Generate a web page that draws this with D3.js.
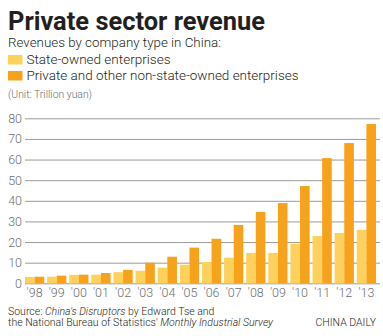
<!DOCTYPE html>
<html>
<head>
<meta charset="utf-8">
<script src="https://cdn.jsdelivr.net/npm/d3@7"></script>
<style>
  body { margin: 0; background: #fff; }
  svg { display: block; }
</style>
</head>
<body>
<div id="chart"></div>
<script>
// data (trillion yuan)
const years = ["'98", "'99", "'00", "'01", "'02", "'03", "'04", "'05", "'06", "'07", "'08", "'09", "'10", "'11", "'12", "'13"];
const stateOwned = [3.1, 3.2, 4.1, 4.2, 5.4, 6.1, 7.6, 9.0, 10.3, 12.4, 14.7, 14.7, 19.2, 22.9, 24.4, 25.9];
const privateOwned = [3.2, 3.7, 4.2, 5.0, 6.5, 10.0, 12.9, 17.3, 21.6, 28.3, 34.6, 38.9, 47.2, 60.7, 68.0, 77.2];
const yTicks = [0, 10, 20, 30, 40, 50, 60, 70, 80];
const series = ["State-owned enterprises", "Private and other non-state-owned enterprises"];

const colors = ["#FDD15C", "#F6A31B"];
const width = 383, height = 336;
const textColor = "#231F20";
const grayText = "#6D6E71";

const svg = d3.select("#chart").append("svg")
    .attr("width", width)
    .attr("height", height);

// title block
svg.append("text")
    .attr("x", 8).attr("y", 29.5)
    .attr("font-family", "Roboto, sans-serif")
    .attr("font-weight", "bold")
    .attr("font-size", 25)
    .attr("textLength", 257)
    .attr("lengthAdjust", "spacingAndGlyphs")
    .attr("fill", textColor)
    .text("Private sector revenue");

svg.append("text")
    .attr("x", 8).attr("y", 46.5)
    .attr("font-family", "Roboto, sans-serif")
    .attr("font-weight", 300)
    .attr("font-size", 13.5)
    .attr("textLength", 213)
    .attr("lengthAdjust", "spacingAndGlyphs")
    .attr("fill", textColor)
    .text("Revenues by company type in China:");

// legend
const legend = svg.selectAll("g.legend")
    .data(series)
    .join("g")
    .attr("class", "legend")
    .attr("transform", (d, i) => `translate(8, ${55 + i * 16})`);

legend.append("rect")
    .attr("width", 14.5).attr("height", 9.5)
    .attr("fill", (d, i) => colors[i]);

legend.append("text")
    .attr("x", 18.5).attr("y", 9.3)
    .attr("font-family", "Roboto, sans-serif")
    .attr("font-weight", 300)
    .attr("font-size", 13.5)
    .attr("textLength", (d, i) => i === 0 ? 144 : 272)
    .attr("lengthAdjust", "spacingAndGlyphs")
    .attr("fill", textColor)
    .text(d => d);

svg.append("text")
    .attr("x", 8).attr("y", 98)
    .attr("font-family", "Roboto, sans-serif")
    .attr("font-weight", 300)
    .attr("font-size", 10)
    .attr("textLength", 84)
    .attr("lengthAdjust", "spacingAndGlyphs")
    .attr("fill", grayText)
    .text("(Unit: Trillion yuan)");

// scales
const x0 = d3.scaleBand()
    .domain(years)
    .range([25, 376])
    .paddingInner(0.13)
    .paddingOuter(0);

const x1 = d3.scaleBand()
    .domain([0, 1])
    .range([0, x0.bandwidth()]);

const y = d3.scaleLinear()
    .domain([0, 80])
    .range([283.3, 118.3]);

// grid + y labels
const yAxis = svg.append("g")
    .attr("transform", "translate(25,0)")
    .call(d3.axisRight(y).tickValues(yTicks).tickSize(355).tickFormat(d3.format("d")));

yAxis.select(".domain").remove();
yAxis.selectAll(".tick line")
    .attr("stroke", "#9A9A9A")
    .attr("stroke-width", 1);
yAxis.selectAll(".tick text")
    .attr("x", -3)
    .attr("text-anchor", "end")
    .attr("font-family", "Roboto, sans-serif")
    .attr("font-weight", 300)
    .attr("font-size", 12.5)
    .attr("fill", grayText);

// bars
const groups = svg.append("g")
    .selectAll("g")
    .data(years.map((yr, i) => ({year: yr, values: [stateOwned[i], privateOwned[i]]})))
    .join("g")
    .attr("transform", d => `translate(${x0(d.year)},0)`);

groups.selectAll("rect")
    .data(d => d.values.map((v, k) => ({k: k, v: v})))
    .join("rect")
    .attr("x", d => x1(d.k))
    .attr("width", x1.bandwidth())
    .attr("y", d => y(d.v))
    .attr("height", d => y(0) - y(d.v))
    .attr("fill", d => colors[d.k]);

// x labels
const xAxis = svg.append("g")
    .attr("transform", `translate(0,${y(0)})`)
    .call(d3.axisBottom(x0).tickSize(0).tickPadding(5));

xAxis.select(".domain").remove();
xAxis.selectAll(".tick text")
    .attr("y", 13.5)
    .attr("dy", 0)
    .attr("font-family", "Roboto, sans-serif")
    .attr("font-weight", 300)
    .attr("font-size", 12.5)
    .attr("fill", grayText);

// source + credit
const src1 = svg.append("text")
    .attr("x", 8).attr("y", 315)
    .attr("font-family", "Roboto, sans-serif")
    .attr("font-weight", 300)
    .attr("font-size", 10.5)
    .attr("fill", textColor);
src1.append("tspan").text("Source: ");
src1.append("tspan").attr("font-style", "italic").text("China's Disruptors");
src1.append("tspan").text(" by Edward Tse and");

const src2 = svg.append("text")
    .attr("x", 8).attr("y", 325.5)
    .attr("font-family", "Roboto, sans-serif")
    .attr("font-weight", 300)
    .attr("font-size", 10.5)
    .attr("fill", textColor);
src2.append("tspan").text("the National Bureau of Statistics' ");
src2.append("tspan").attr("font-style", "italic").text("Monthly Industrial Survey");

svg.append("text")
    .attr("x", 376).attr("y", 325.5)
    .attr("text-anchor", "end")
    .attr("font-family", "Roboto, sans-serif")
    .attr("font-weight", 300)
    .attr("font-size", 10.5)
    .attr("fill", textColor)
    .text("CHINA DAILY");
</script>
</body>
</html>
